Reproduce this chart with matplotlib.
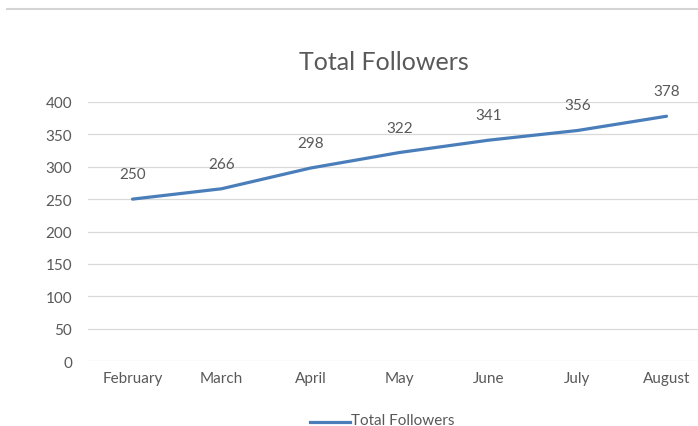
import matplotlib
matplotlib.use("Agg")
import matplotlib.pyplot as plt
from matplotlib.lines import Line2D

months = ["February", "March", "April", "May", "June", "July", "August"]
followers = [250, 266, 298, 322, 341, 356, 378]
y_ticks = [0, 50, 100, 150, 200, 250, 300, 350, 400]

W, H = 698, 427
LINE_BLUE = "#4a7ebb"
TEXT_GRAY = "#595959"
GRID_GRAY = "#d9d9d9"

plt.rcParams["font.family"] = ["Lato", "DejaVu Sans"]

fig = plt.figure(figsize=(W / 100, H / 100), dpi=100)
fig.patch.set_facecolor("white")

# plot area in pixel terms (left, bottom, right, top)
left, right = 88, 711
top, bottom = 103, 362
ax = fig.add_axes([left / W, 1 - bottom / H, (right - left) / W, (bottom - top) / H])

x = list(range(len(months)))
ax.plot(x, followers, color=LINE_BLUE, linewidth=2.3, solid_capstyle="round",
        solid_joinstyle="round", zorder=3)

for xi, v in zip(x, followers):
    ax.annotate(str(v), (xi, v), xytext=(0, 18), textcoords="offset points",
                ha="center", va="center", fontsize=11, color=TEXT_GRAY)

ax.set_xlim(-0.5, len(months) - 0.5)
ax.set_ylim(0, 400)
ax.set_yticks(y_ticks)
ax.set_xticks(x)
ax.set_xticklabels(months)
ax.tick_params(axis="both", length=0, labelsize=11, labelcolor=TEXT_GRAY)
ax.tick_params(axis="y", pad=11.5)
ax.tick_params(axis="x", pad=7)
ax.grid(axis="y", color=GRID_GRAY, linewidth=0.9)
ax.set_axisbelow(True)
for s in ax.spines.values():
    s.set_visible(False)

# chart title
fig.text(384 / W, 1 - 63 / H, "Total Followers", ha="center", va="center",
         fontsize=18, color=TEXT_GRAY)

# legend entry
fig.add_artist(Line2D([310 / W, 350 / W], [1 - 423 / H, 1 - 423 / H],
                      color=LINE_BLUE, linewidth=2.3, transform=fig.transFigure))
fig.text(351 / W, 1 - 421 / H, "Total Followers", ha="left", va="center",
         fontsize=11, color=TEXT_GRAY)

# divider at the top
fig.add_artist(Line2D([7 / W, 1.0], [1 - 10 / H, 1 - 10 / H],
                      color="#d4d4d4", linewidth=1.5, transform=fig.transFigure))

fig.savefig("out.png", dpi=100)
